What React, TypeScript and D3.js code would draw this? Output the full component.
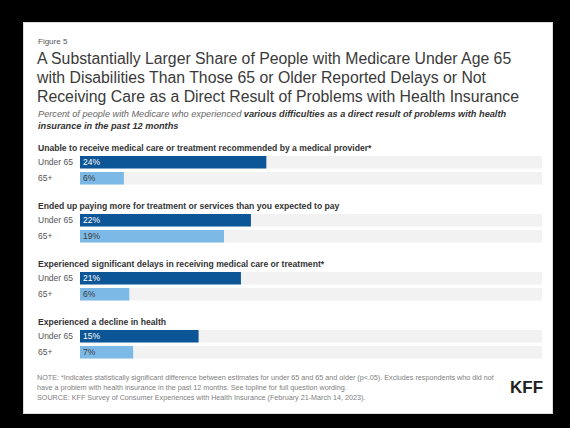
import React from "react";
import * as d3 from "d3";

const categories = [
  "Unable to receive medical care or treatment recommended by a medical provider*",
  "Ended up paying more for treatment or services than you expected to pay",
  "Experienced significant delays in receiving medical care or treatment*",
  "Experienced a decline in health",
];
const seriesNames = ["Under 65", "65+"];
const under65 = [24.2, 22.2, 20.9, 15.4];
const over65 = [5.7, 18.7, 6.4, 6.9];

const titleLines = [
  "A Substantially Larger Share of People with Medicare Under Age 65",
  "with Disabilities Than Those 65 or Older Reported Delays or Not",
  "Receiving Care as a Direct Result of Problems with Health Insurance",
];
const noteLines = [
  "NOTE: *Indicates statistically significant difference between estimates for under 65 and 65 and older (p<.05). Excludes respondents who did not",
  "have a problem with health insurance in the past 12 months. See topline for full question wording.",
  "SOURCE: KFF Survey of Consumer Experiences with Health Insurance (February 21-March 14, 2023).",
];

const W = 570;
const H = 428;
const FONT = "'Liberation Sans', Arial, Helvetica, sans-serif";
const COLORS = ["#0c5596", "#7db9e6"];
const LABEL_COLORS = ["#ffffff", "#3a3a3a"];

export default function App() {
  const x = d3.scaleLinear().domain([0, 60]).range([80, 542]);
  const yGroup = d3
    .scaleBand<string>()
    .domain(categories)
    .range([142, 142 + 58 * categories.length])
    .paddingInner(0)
    .paddingOuter(0);
  const ySeries = d3
    .scaleBand<string>()
    .domain(seriesNames)
    .range([14, 42.5])
    .paddingInner(3.5 / 16)
    .paddingOuter(0);
  const fmt = d3.format(".0f");
  const values = [under65, over65];

  return (
    <div
      style={{
        position: "fixed",
        left: 0,
        top: 0,
        width: W,
        height: H,
        background: "#000",
      }}
    >
      <svg width={W} height={H} style={{ display: "block" }} fontFamily={FONT}>
        <rect x={0} y={0} width={W} height={H} fill="#000" />
        <rect x={23.5} y={22.5} width={529} height={391} fill="#fff" stroke="#dcdcdc" />
        <text x={38} y={44} fontSize={8} fill="#555">Figure 5</text>
        {titleLines.map((t, i) => (
          <text key={i} x={37} y={64 + i * 19} fontSize={15.8} fill="#3a3a3a">
            {t}
          </text>
        ))}
        <text x={38} y={117} fontSize={9.2} fontStyle="italic" fill="#666">
          Percent of people with Medicare who experienced{" "}
          <tspan fontWeight="bold" fill="#333">
            various difficulties as a direct result of problems with health
          </tspan>
        </text>
        <text x={38} y={129} fontSize={9.2} fontStyle="italic" fontWeight="bold" fill="#333">
          insurance in the past 12 months
        </text>

        {categories.map((cat, ci) => {
          const g0 = yGroup(cat)!;
          return (
            <g key={cat}>
              <text x={38} y={g0 + 9} fontSize={8.6} fontWeight="bold" fill="#333">
                {cat}
              </text>
              {seriesNames.map((s, si) => {
                const by = g0 + ySeries(s)!;
                const bh = ySeries.bandwidth();
                const v = values[si][ci];
                return (
                  <g key={s}>
                    <text x={38} y={by + bh / 2 + 3.1} fontSize={8.5} fill="#555">
                      {s}
                    </text>
                    <rect x={x(0)} y={by} width={x(60) - x(0)} height={bh} fill="#f2f2f2" />
                    <rect x={x(0)} y={by} width={x(v) - x(0)} height={bh} fill={COLORS[si]} />
                    <text
                      x={x(0) + 3}
                      y={by + bh / 2 + 3.1}
                      fontSize={8.5}
                      fill={LABEL_COLORS[si]}
                    >
                      {fmt(v) + "%"}
                    </text>
                  </g>
                );
              })}
            </g>
          );
        })}

        {noteLines.map((t, i) => (
          <text key={i} x={37} y={379.5 + i * 10} fontSize={7.2} fill="#808080">
            {t}
          </text>
        ))}
        <text x={510} y={392.5} fontSize={17} fontWeight="bold" fill="#222">
          KFF
        </text>
      </svg>
    </div>
  );
}
